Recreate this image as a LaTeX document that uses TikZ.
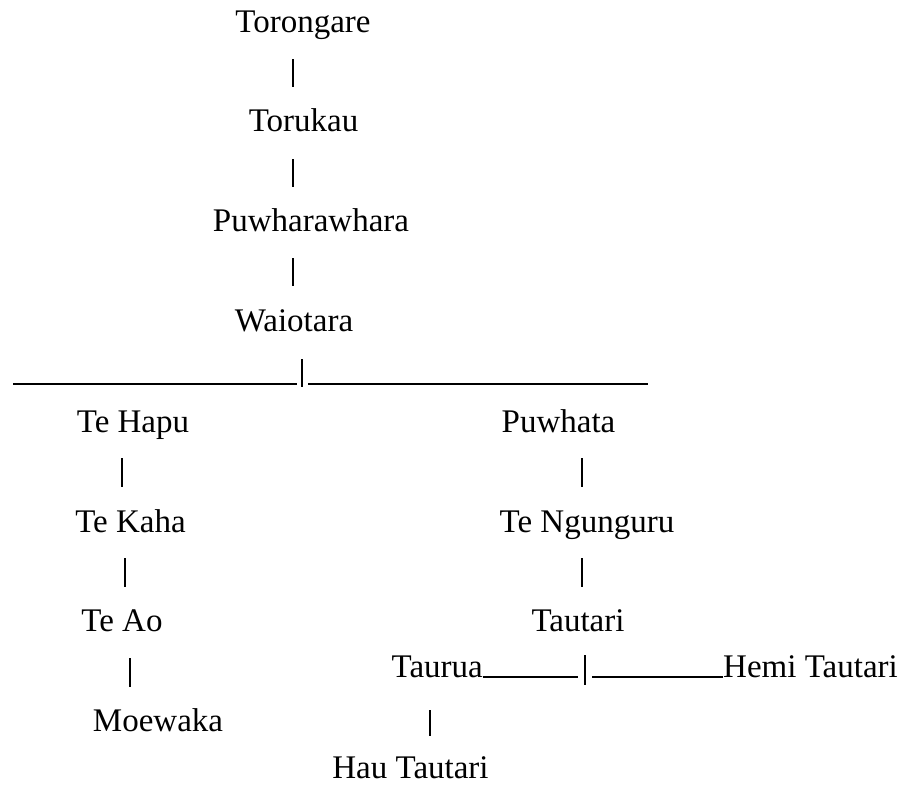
\documentclass[tikz,border=0pt]{standalone}
\usepackage{fontspec}
\setmainfont{Liberation Serif}
\usepackage{tikz}
\usetikzlibrary{positioning,calc}

\tikzset{
    person/.style={inner sep=0pt, anchor=base, font=\fontsize{33}{39}\selectfont},
    bar/.style={line width=1.2pt}
}

\begin{document}
\begin{tikzpicture}[x=1pt,y=-1pt]
    \useasboundingbox (0,0) rectangle (901,785);
    % Main line
    \node[person] (torongare) at (303,32) {Torongare};
    \node[person] (torukau) at (303.5,131) {Torukau};
    \node[person] (puwharawhara) at (311,231) {Puwharawhara};
    \node[person] (waiotara) at (294,331) {Waiotara};
    \draw[bar] (293,59) -- (293,87);
    \draw[bar] (293,159) -- (293,187);
    \draw[bar] (293,258) -- (293,286);

    % Split
    \draw[bar] (13,384) -- (297,384);
    \draw[bar] (302,359) -- (302,387);
    \draw[bar] (308,384) -- (648,384);

    % Left branch
    \node[person] (tehapu) at (133,432) {Te Hapu};
    \node[person] (tekaha) at (130.5,532) {Te Kaha};
    \node[person] (teao) at (122,631) {Te Ao};
    \node[person] (moewaka) at (158,731) {Moewaka};
    \draw[bar] (122,458) -- (122,487);
    \draw[bar] (125,558) -- (125,587);
    \draw[bar] (130,658) -- (130,687);

    % Right branch
    \node[person] (puwhata) at (558.5,432) {Puwhata};
    \node[person] (tengunguru) at (587,532) {Te Ngunguru};
    \node[person] (tautari) at (578,631) {Tautari};
    \draw[bar] (582,458) -- (582,487);
    \draw[bar] (582,558) -- (582,587);

    \node[person, anchor=base east] (taurua) at (483,677) {Taurua};
    \node[person, anchor=base west] (hemi) at (723,677) {Hemi Tautari};
    \draw[bar] (taurua.base east) -- ++(95,0);
    \draw[bar] (585,655) -- (585,685);
    \draw[bar] (hemi.base west) -- ++(-131,0);

    \node[person] (hau) at (410.5,778) {Hau Tautari};
    \draw[bar] (430,710) -- (430,736);
\end{tikzpicture}
\end{document}
